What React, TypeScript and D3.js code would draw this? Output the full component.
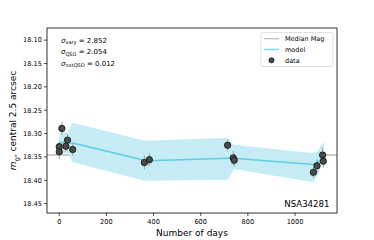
import React from "react";
import * as d3 from "d3";

// observations
const days = [0, 0, 11, 28, 35, 57, 361, 382, 714, 738, 742, 1078, 1093, 1117, 1120];
const mags = [18.328, 18.339, 18.289, 18.327, 18.314, 18.334, 18.362, 18.356, 18.325, 18.352, 18.357, 18.383, 18.369, 18.346, 18.359];
const errs = [0.012, 0.016, 0.014, 0.012, 0.013, 0.013, 0.015, 0.014, 0.012, 0.015, 0.014, 0.012, 0.014, 0.016, 0.014];

// model curve and its band
const modelDays = [0, 11, 35, 57, 361, 382, 714, 740, 1078, 1093, 1120];
const modelMag = [18.33, 18.318, 18.32, 18.32, 18.357, 18.358, 18.353, 18.353, 18.366, 18.363, 18.35];
const bandLo = [18.31, 18.295, 18.3, 18.278, 18.316, 18.316, 18.31, 18.325, 18.343, 18.34, 18.32];
const bandHi = [18.35, 18.345, 18.34, 18.36, 18.4, 18.4, 18.398, 18.375, 18.403, 18.39, 18.36];

const medianMag = 18.346;
const xTicks = [0, 200, 400, 600, 800, 1000];
const yTicks = [18.1, 18.15, 18.2, 18.25, 18.3, 18.35, 18.4, 18.45];
const sigmaNames = ["vary", "QSO", "notQSO"];
const sigmaValues = ["2.852", "2.054", "0.012"];
const legendLabels = ["Median Mag", "model", "data"];
const objName = "NSA34281";

const W = 374;
const H = 240;
const m = { left: 47, right: 337, top: 28, bottom: 213 };
const font = "DejaVu Sans, sans-serif";

const App: React.FC = () => {
  const x = d3.scaleLinear().domain([-52, 1178]).range([m.left, m.right]);
  const y = d3.scaleLinear().domain([18.074, 18.47]).range([m.top, m.bottom]);

  const idx = modelDays.map((_, i) => i);
  const area = d3
    .area<number>()
    .x((i) => x(modelDays[i]))
    .y0((i) => y(bandLo[i]))
    .y1((i) => y(bandHi[i]));
  const line = d3
    .line<number>()
    .x((i) => x(modelDays[i]))
    .y((i) => y(modelMag[i]));

  return (
    <svg width={W} height={H} style={{ position: "absolute", left: 0, top: 0 }} fontFamily={font}>
      <rect width={W} height={H} fill="white" />
      <defs>
        <clipPath id="plot">
          <rect x={m.left} y={m.top} width={m.right - m.left} height={m.bottom - m.top} />
        </clipPath>
      </defs>
      <g clipPath="url(#plot)">
        <line x1={m.left} x2={m.right} y1={y(medianMag)} y2={y(medianMag)} stroke="#bdbdbd" strokeWidth={1.5} />
        <path d={area(idx) ?? ""} fill="#c6edf5" stroke="#b3e6f0" strokeWidth={0.6} />
        <path d={line(idx) ?? ""} fill="none" stroke="#5ccde4" strokeWidth={1.5} />
        {days.map((d, i) => (
          <line key={"e" + i} x1={x(d)} x2={x(d)} y1={y(mags[i] - errs[i])} y2={y(mags[i] + errs[i])} stroke="#a0a0a0" strokeWidth={1} />
        ))}
        {days.map((d, i) => (
          <circle key={"p" + i} cx={x(d)} cy={y(mags[i])} r={3.2} fill="#4a4a4a" stroke="#111" strokeWidth={0.8} />
        ))}
      </g>
      <rect x={m.left} y={m.top} width={m.right - m.left} height={m.bottom - m.top} fill="none" stroke="#000" strokeWidth={0.8} />
      {xTicks.map((t) => (
        <g key={"x" + t}>
          <line x1={x(t)} x2={x(t)} y1={m.bottom} y2={m.bottom + 3} stroke="#000" strokeWidth={0.7} />
          <text x={x(t)} y={m.bottom + 11} fontSize={6.6} textAnchor="middle">{t}</text>
        </g>
      ))}
      {yTicks.map((t) => (
        <g key={"y" + t}>
          <line x1={m.left - 3} x2={m.left} y1={y(t)} y2={y(t)} stroke="#000" strokeWidth={0.7} />
          <text x={m.left - 5} y={y(t) + 2.3} fontSize={6.6} textAnchor="end">{t.toFixed(2)}</text>
        </g>
      ))}
      <text x={(m.left + m.right) / 2} y={236} fontSize={9} textAnchor="middle">Number of days</text>
      <text transform={`translate(16,${(m.top + m.bottom) / 2}) rotate(-90)`} fontSize={9} textAnchor="middle">
        <tspan fontStyle="italic">m</tspan>
        <tspan fontSize={6.5} dy={2.5}>g</tspan>
        <tspan dy={-2.5}>, central 2.5 arcsec</tspan>
      </text>
      {sigmaNames.map((s, i) => (
        <text key={s} x={61} y={42.5 + i * 11.5} fontSize={7}>
          <tspan fontStyle="italic">σ</tspan>
          <tspan fontSize={5} dy={1.6}>{s}</tspan>
          <tspan dy={-1.6}> = {sigmaValues[i]}</tspan>
        </text>
      ))}
      <rect x={261} y={32.5} width={72} height={34} rx={2} fill="white" stroke="#d8d8d8" strokeWidth={0.8} />
      {legendLabels.map((l, i) => {
        const ly = 38.7 + i * 10.8;
        return (
          <g key={l}>
            {i === 0 && <line x1={264} x2={279} y1={ly} y2={ly} stroke="#bdbdbd" strokeWidth={1.2} />}
            {i === 1 && <line x1={264} x2={279} y1={ly} y2={ly} stroke="#7fd9ec" strokeWidth={1.5} />}
            {i === 2 && <circle cx={271.5} cy={ly} r={2.6} fill="#4a4a4a" stroke="#111" strokeWidth={0.7} />}
            <text x={285} y={ly + 2.2} fontSize={6.5}>{l}</text>
          </g>
        );
      })}
      <text x={329.5} y={206.5} fontSize={8.6} textAnchor="end">{objName}</text>
    </svg>
  );
};

export default App;
